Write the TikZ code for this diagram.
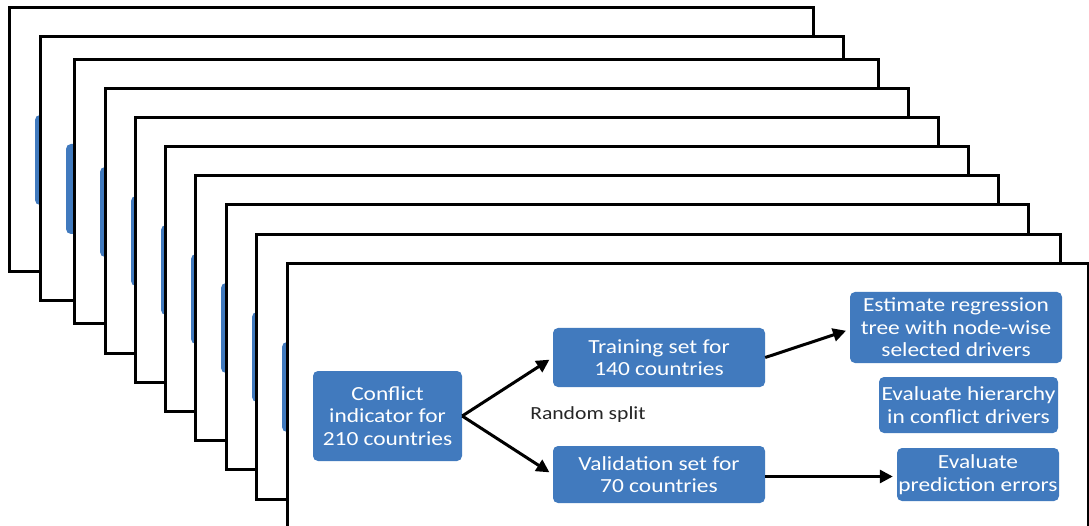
\documentclass[tikz,border=0pt]{standalone}
\usepackage{fontspec}
\setmainfont{Carlito}
\newfontfamily\boxfont[FakeStretch=1.17]{Carlito}
\usetikzlibrary{arrows.meta}
\definecolor{boxblue}{RGB}{65,122,190}
\begin{document}
\begin{tikzpicture}[x=1pt,y=-1pt,
  frame/.style={draw=black,line width=3pt,fill=white},
  bluebox/.style={fill=boxblue,rounded corners=5pt,inner sep=0pt,align=center,text=white,
    font=\boxfont\fontsize{20}{22.5}\selectfont},
  arr/.style={line width=3pt,-{Triangle[length=13pt,width=13pt]},shorten >=4pt}]
\useasboundingbox (0,0) rectangle (1089,526);
\clip (0,0) rectangle (1089,526);
% back frames with the left part of their first box
\foreach \l/\t/\r [count=\i] in {9/8/813,40/37/843,74/60/878,105/89/908,135/118/938,165/147/968,195/176/998,226/205/1028,256/235/1060}{
  \draw[frame] (\l,\t) rectangle (\r,\t+264);
  \fill[boxblue,rounded corners=5pt] (\l+26,\t+107) rectangle (\l+175,\t+197);
}
% front frame
\draw[frame] (287,264) rectangle (1088,530);
\node[bluebox,minimum width=149pt,minimum height=90pt] (conflict) at (387.5,416) {Conflict\\indicator for\\210 countries};
\node[bluebox,minimum width=212pt,minimum height=59pt] (train) at (659,357.5) {Training set for\\140 countries};
\node[bluebox,minimum width=212pt,minimum height=57pt] (valid) at (659,474.5) {Validation set for\\70 countries};
\node[bluebox,minimum width=212pt,minimum height=71pt] (estimate) at (956,327.5) {Estimate regression\\tree with node-wise\\selected drivers};
\node[bluebox,minimum width=179pt,minimum height=56pt] (hier) at (968.5,405) {Evaluate hierarchy\\in conflict drivers};
\node[bluebox,minimum width=162pt,minimum height=53pt] (pred) at (978,474.5) {Evaluate\\prediction errors};
\node[font=\boxfont\fontsize{18.5}{20}\selectfont,text=black!85,inner sep=0pt] (split) at (588,415) {Random split};
\draw[arr] (conflict.east) -- (train.west);
\draw[arr] (conflict.east) -- (valid.west);
\draw[arr] (train.east) -- ([yshift=-2pt]estimate.west);
\draw[arr] ([yshift=-2pt]valid.east) -- ([yshift=-2pt]pred.west);
\end{tikzpicture}
\end{document}
